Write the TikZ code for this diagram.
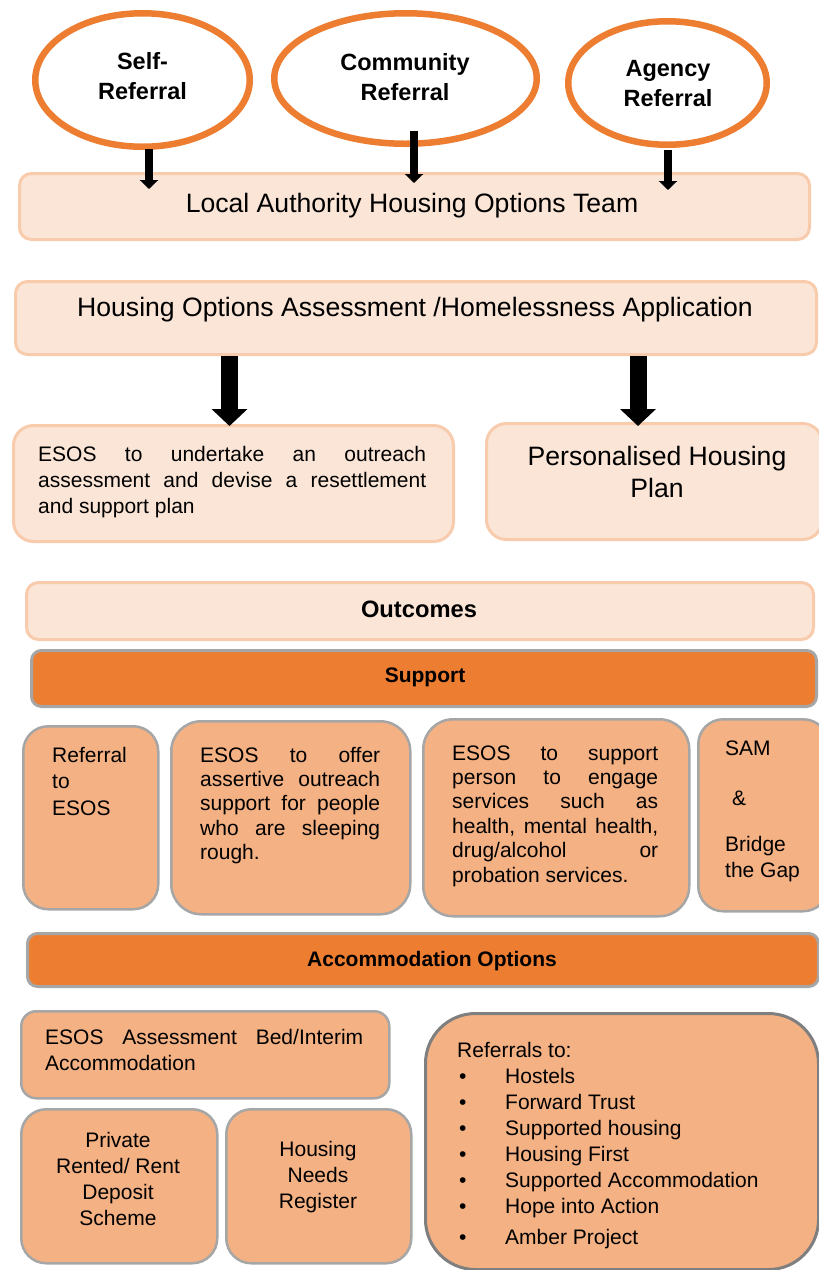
\documentclass[tikz,border=0pt]{standalone}
\usepackage{fontspec}
\setmainfont{Liberation Sans}
\usetikzlibrary{shapes.geometric,arrows.meta}
\definecolor{orng}{HTML}{ED7D31}
\definecolor{peach}{HTML}{FBE5D6}
\definecolor{peachline}{HTML}{F8CBAD}
\definecolor{salmon}{HTML}{F4B183}
\definecolor{grayline}{HTML}{A6A6A6}
\definecolor{darkline}{HTML}{7F7F7F}
\newcommand{\bodyf}{\fontsize{21pt}{26pt}\selectfont}
\newcommand{\bodyg}{\fontsize{21pt}{24.4pt}\selectfont}
\newcommand{\bigf}{\fontsize{26.6pt}{32pt}\selectfont}
\newcommand{\ellf}{\fontsize{23.5pt}{30pt}\selectfont\bfseries}
\begin{document}
\begin{tikzpicture}[x=1pt,y=-1pt,
  refell/.style={ellipse, draw=orng, line width=6.5pt, inner sep=0pt},
  lightbox/.style={draw=peachline, fill=peach, line width=3pt, rounded corners=#1, anchor=north west, inner sep=0pt},
  barbox/.style={draw=grayline, fill=orng, line width=3pt, rounded corners=10pt, anchor=north west, inner sep=0pt},
  salbox/.style={draw=grayline, fill=salmon, line width=2.5pt, rounded corners=#1, anchor=north west, inner sep=0pt},
  txt/.style={inner sep=0pt, align=left, anchor=base west, font=\bodyf},
  ctxt/.style={inner sep=0pt, align=center, font=\bodyf},
  smallarr/.style={line width=8pt, -{Triangle[width=18pt,length=9pt]}},
  bigarr/.style={line width=17pt, -{Triangle[width=35pt,length=17pt]}}
]
\useasboundingbox (0,0) rectangle (819,1270);
\clip (0,0) rectangle (819,1270);

% referral ellipses
\node[refell, minimum width=214.5pt, minimum height=133.5pt] (self) at (142.5,80) {};
\node[refell, minimum width=262.5pt, minimum height=130.5pt] (comm) at (405.5,78.5) {};
\node[refell, minimum width=198.5pt, minimum height=123.5pt] (agency) at (667.5,83) {};
\node[ctxt, font=\ellf] (selft) at (142.5,76) {Self-\\Referral};
\node[ctxt, font=\ellf] (commt) at (405,77.5) {Community\\Referral};
\node[ctxt, font=\ellf] (agencyt) at (668,84) {Agency\\Referral};

% Local authority team
\node[lightbox=12pt, minimum width=790pt, minimum height=66pt] (lahot) at (18,172) {};
\node[ctxt, font=\bigf] (lahott) at (412,206) {Local Authority Housing Options Team};

% arrows from ellipses
\coordinate (a1s) at (149,149); \coordinate (a1e) at (149,189);
\coordinate (a2s) at (414,131); \coordinate (a2e) at (414,183);
\coordinate (a3s) at (668,150); \coordinate (a3e) at (668,190);
\draw[smallarr] (a1s) -- (a1e);
\draw[smallarr] (a2s) -- (a2e);
\draw[smallarr] (a3s) -- (a3e);

% assessment
\node[lightbox=12pt, minimum width=801pt, minimum height=73pt] (hoa) at (14,280) {};
\node[ctxt, font=\bigf] (hoat) at (415,310) {Housing Options Assessment /Homelessness Application};

\node[lightbox=20pt, minimum width=440pt, minimum height=116pt] (esos) at (12,424) {};
\node[lightbox=20pt, minimum width=336pt, minimum height=116pt] (php) at (485,422) {};
\node[txt] (esost) at (38,513) {\makebox[388pt][s]{ESOS to undertake an outreach}\\\makebox[388pt][s]{assessment and devise a resettlement}\\and support plan};
\node[ctxt, font=\bigf] (phpt) at (657,472) {Personalised Housing\\Plan};

\coordinate (b1s) at (229.5,356); \coordinate (b1e) at (229.5,426);
\coordinate (b2s) at (638,356); \coordinate (b2e) at (638,426);
\draw[bigarr] (b1s) -- (b1e);
\draw[bigarr] (b2s) -- (b2e);

% outcomes
\node[lightbox=12pt, minimum width=787pt, minimum height=57pt] (outc) at (25,581) {};
\node[ctxt, font=\fontsize{23.7pt}{28pt}\selectfont\bfseries] (outct) at (419,609) {Outcomes};

% support
\node[barbox, minimum width=785pt, minimum height=56pt] (supbar) at (30,649) {};
\node[ctxt, font=\bodyf\bfseries] (supbart) at (425,677) {Support};

\node[salbox=25pt, minimum width=135pt, minimum height=183pt] (sa) at (22,725) {};
\node[salbox=30pt, minimum width=239pt, minimum height=193pt] (sb) at (170,720) {};
\node[salbox=30pt, minimum width=266pt, minimum height=197pt] (sc) at (422,718) {};
\node[salbox=25pt, minimum width=130pt, minimum height=192pt] (sd) at (697,718) {};

\node[txt, font=\fontsize{21pt}{26.5pt}\selectfont] (sat) at (52,815) {Referral\\to\\ESOS};
\node[txt, font=\bodyg] (sbt) at (200,859.6) {\makebox[180pt][s]{ESOS to offer}\\\makebox[180pt][s]{assertive outreach}\\\makebox[180pt][s]{support for people}\\\makebox[180pt][s]{who are sleeping}\\rough.};
\node[txt, font=\bodyg] (sct) at (452,882) {\makebox[206pt][s]{ESOS to support}\\\makebox[206pt][s]{person to engage}\\\makebox[206pt][s]{services such as}\\\makebox[206pt][s]{health, mental health,}\\\makebox[206pt][s]{drug/alcohol or}\\probation services.};
\node[txt] (sdt) at (725,877) {SAM\\[24pt]\hspace*{7pt}\&\\[20pt]Bridge\\the Gap};

% accommodation
\node[barbox, minimum width=791pt, minimum height=53pt] (accbar) at (26,932) {};
\node[ctxt, font=\bodyf\bfseries] (accbart) at (432,961) {Accommodation Options};

\node[salbox=15pt, minimum width=368pt, minimum height=87pt] (ea) at (20,1010) {};
\node[salbox=25pt, minimum width=196pt, minimum height=154pt] (eb) at (20,1108) {};
\node[salbox=25pt, minimum width=185pt, minimum height=154pt] (ec) at (225,1108) {};
\node[salbox=50pt, draw=darkline, line width=3pt, minimum width=393pt, minimum height=256pt] (ed) at (424,1012) {};

\node[txt] (eat) at (45,1070) {\makebox[318pt][s]{ESOS Assessment Bed/Interim}\\Accommodation};
\node[ctxt, anchor=base] (ebt) at (118,1225) {Private\\Rented/ Rent\\Deposit\\Scheme};
\node[ctxt, anchor=base] (ect) at (318,1208) {Housing\\Needs\\Register};
\node[txt] (edt) at (457,1244) {Referrals to:\\
\hspace*{2pt}\makebox[46pt][l]{\textbullet}Hostels\\
\hspace*{2pt}\makebox[46pt][l]{\textbullet}Forward Trust\\
\hspace*{2pt}\makebox[46pt][l]{\textbullet}Supported housing\\
\hspace*{2pt}\makebox[46pt][l]{\textbullet}Housing First\\
\hspace*{2pt}\makebox[46pt][l]{\textbullet}Supported Accommodation\\
\hspace*{2pt}\makebox[46pt][l]{\textbullet}Hope into Action\\[5pt]
\hspace*{2pt}\makebox[46pt][l]{\textbullet}Amber Project};
\end{tikzpicture}
\end{document}
